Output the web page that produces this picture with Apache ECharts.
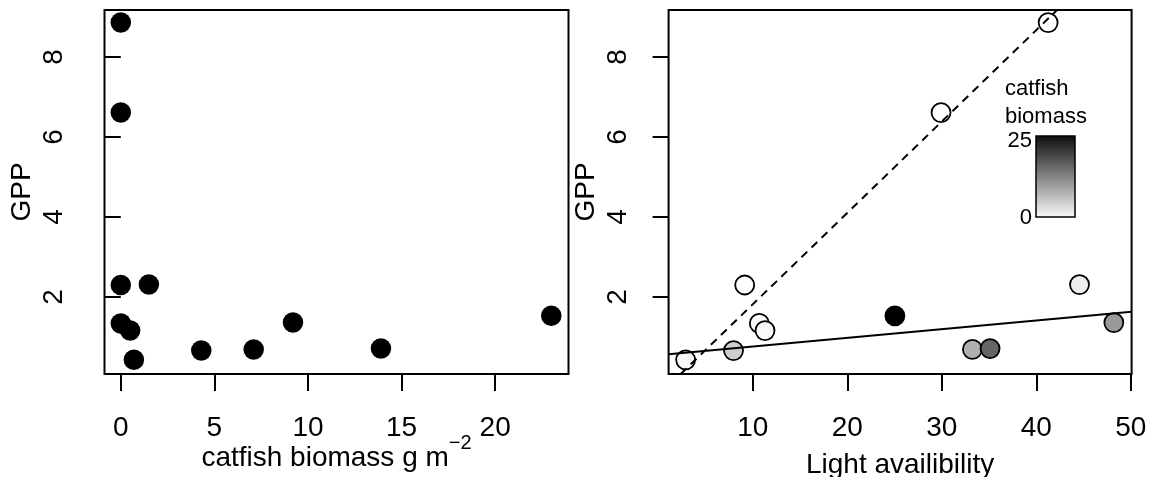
<!DOCTYPE html>
<html>
<head>
<meta charset="utf-8">
<script src="https://cdn.jsdelivr.net/npm/echarts@6/dist/echarts.min.js"></script>
<style>
html,body{margin:0;padding:0;background:#fff;}
#chart{width:1149px;height:477px;}
</style>
</head>
<body>
<div id="chart"></div>
<script>
// ---- data ----
var catfishBiomass = [0, 0, 0, 1.5, 0, 0.5, 0.7, 4.3, 7.1, 9.2, 13.9, 23.0];
var gppValues      = [8.86, 6.61, 2.30, 2.31, 1.34, 1.16, 0.43, 0.66, 0.69, 1.36, 0.71, 1.53];
var lightAvail     = [41.25, 29.92, 9.15, 44.57, 10.70, 11.30, 2.90, 7.97, 33.24, 48.20, 35.11, 25.04];

var leftXTicks  = [0, 5, 10, 15, 20];
var rightXTicks = [10, 20, 30, 40, 50];
var yTicks      = [2, 4, 6, 8];
var legendTicks = ['25', '0'];

// fitted lines (endpoints read where they meet the plot frame)
var dashedLine = [[2.38, 0.075], [42.2, 9.175]];
var solidLine  = [[1.1, 0.567], [50.08, 1.63]];

var FONT = 'Liberation Sans, Arial, sans-serif';

var leftData = catfishBiomass.map(function (c, i) { return [c, gppValues[i]]; });
var rightData = lightAvail.map(function (l, i) { return [l, gppValues[i], catfishBiomass[i]]; });

var chart = echarts.init(document.getElementById('chart'), null, {renderer: 'canvas'});

function xAxisCfg(idx, min, max, ticks, name, gap) {
  return {
    type: 'value', gridIndex: idx, min: min, max: max,
    position: 'bottom',
    axisLine: {show: false},
    splitLine: {show: false},
    axisTick: {show: true, inside: false, length: 17, customValues: ticks,
      lineStyle: {color: '#000', width: 2}},
    axisLabel: {show: true, customValues: ticks, margin: 40,
      color: '#000', fontSize: 28, fontFamily: FONT},
    name: name, nameLocation: 'middle', nameGap: gap, nameMoveOverlap: false,
    nameTextStyle: {color: '#000', fontSize: 28, fontFamily: FONT,
      rich: {
        m: {fontSize: 28, fontFamily: FONT, color: '#000', verticalAlign: 'bottom'},
        s: {fontSize: 20, fontFamily: FONT, color: '#000', verticalAlign: 'bottom', padding: [0, 0, 19, 0]}
      }}
  };
}
function yAxisCfg(idx) {
  return {
    type: 'value', gridIndex: idx, min: 0.075, max: 9.175,
    axisLine: {show: false},
    splitLine: {show: false},
    axisTick: {show: true, inside: false, length: 16, customValues: yTicks,
      lineStyle: {color: '#000', width: 2}},
    axisLabel: {show: true, customValues: yTicks, margin: 36, rotate: 90,
      color: '#000', fontSize: 28, fontFamily: FONT},
    name: 'GPP', nameLocation: 'middle', nameGap: 68, nameRotate: 90, nameMoveOverlap: false,
    nameTextStyle: {color: '#000', fontSize: 28, fontFamily: FONT}
  };
}

chart.setOption({
  animation: false,
  backgroundColor: '#fff',
  grid: [
    {left: 104.5, top: 10, width: 464, height: 364, show: true, outerBoundsMode: 'none',
     borderColor: '#000', borderWidth: 2, backgroundColor: 'transparent', containLabel: false},
    {left: 668.6, top: 10, width: 463, height: 364, show: true, outerBoundsMode: 'none',
     borderColor: '#000', borderWidth: 2, backgroundColor: 'transparent', containLabel: false}
  ],
  xAxis: [
    xAxisCfg(0, -0.87, 23.92, leftXTicks, '{m|catfish biomass g m}{s|\u22122}', 59),
    xAxisCfg(1, 1.1, 50.08, rightXTicks, 'Light availibility', 77)
  ],
  yAxis: [yAxisCfg(0), yAxisCfg(1)],
  visualMap: [{
    type: 'continuous', show: false, seriesIndex: 1, dimension: 2,
    min: 0, max: 23, inRange: {color: ['#ffffff', '#000000']}
  }],
  series: [
    {type: 'scatter', xAxisIndex: 0, yAxisIndex: 0, data: leftData,
     symbol: 'circle', symbolSize: 20.5,
     itemStyle: {color: '#000', opacity: 1}, z: 3},
    {type: 'scatter', xAxisIndex: 1, yAxisIndex: 1, data: rightData,
     symbol: 'circle', symbolSize: 19,
     itemStyle: {borderColor: '#000', borderWidth: 1.8, opacity: 1}, z: 3},
    {type: 'line', xAxisIndex: 1, yAxisIndex: 1, data: dashedLine,
     symbol: 'none', clip: true,
     lineStyle: {color: '#000', width: 2, type: [8, 6]}, z: 4},
    {type: 'line', xAxisIndex: 1, yAxisIndex: 1, data: solidLine,
     symbol: 'none', clip: true,
     lineStyle: {color: '#000', width: 2, type: 'solid'}, z: 4}
  ],
  graphic: [
    {type: 'text', left: 1005, top: 78,
     style: {text: 'catfish', fill: '#000', font: '22px ' + FONT}},
    {type: 'text', left: 1005, top: 106,
     style: {text: 'biomass', fill: '#000', font: '22px ' + FONT}},
    {type: 'rect', shape: {x: 1036, y: 136, width: 39, height: 81},
     style: {
       fill: new echarts.graphic.LinearGradient(0, 0, 0, 1, [
         {offset: 0, color: '#0d0d0d'}, {offset: 1, color: '#fafafa'}]),
       stroke: '#000', lineWidth: 1.5}},
    {type: 'text', x: 1032, y: 141,
     style: {text: legendTicks[0], fill: '#000', font: '22px ' + FONT, align: 'right', verticalAlign: 'middle'}},
    {type: 'text', x: 1032, y: 218,
     style: {text: legendTicks[1], fill: '#000', font: '22px ' + FONT, align: 'right', verticalAlign: 'middle'}}
  ]
});
</script>
</body>
</html>
